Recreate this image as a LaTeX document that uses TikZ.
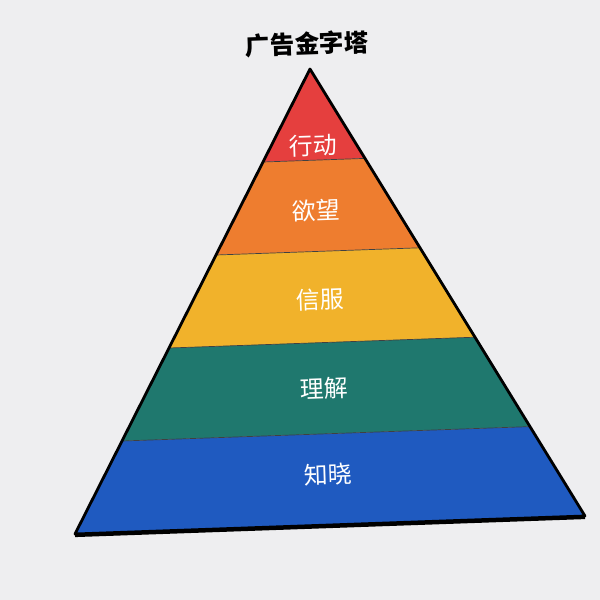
\documentclass[tikz,border=0pt]{standalone}
\usepackage{fontspec}
\newfontfamily\cjk{Noto Sans CJK SC}
\usetikzlibrary{calc}
\definecolor{paper}{HTML}{EEEEF0}
\definecolor{actred}{HTML}{E53F3E}
\definecolor{wishorange}{HTML}{EE7D2F}
\definecolor{trustyellow}{HTML}{F1B22B}
\definecolor{knowteal}{HTML}{1F786E}
\definecolor{awareblue}{HTML}{1F5AC0}
\begin{document}
\begin{tikzpicture}[x=0.25mm,y=-0.25mm,
  lvl/.style={text=white,font=\cjk\fontsize{17}{17}\selectfont,rotate=2},
  sep/.style={draw=black!75,line width=0.5pt}]
\fill[paper](0,0)rectangle(600,600);
\useasboundingbox(0,0)rectangle(600,600);
\coordinate(top)at(310,69);
\coordinate(bl)at(75,534);
\coordinate(br)at(585,516);
\coordinate(mid)at($(bl)!0.5!(br)$);
% bands, top to bottom
\foreach \i/\c in {0/actred,1/wishorange,2/trustyellow,3/knowteal,4/awareblue}{
  \pgfmathsetmacro\a{\i/5}\pgfmathsetmacro\b{(\i+1)/5}
  \fill[\c]($(top)!\a!(bl)$)--($(top)!\b!(bl)$)--($(top)!\b!(br)$)--($(top)!\a!(br)$)--cycle;
}
\foreach \t in {0.2,0.4,0.6,0.8}
  \draw[sep]($(top)!\t!(bl)$)--($(top)!\t!(br)$);
\draw[line width=2pt,line join=round](top)--(bl)--(br)--cycle;
\draw[line width=2pt]([yshift=-1.2pt]bl)--([yshift=-1.2pt]br);
% labels
\node[lvl](act)at($(top)!0.167!(mid)$){行动};
\node[lvl](wish)at($(top)!0.31!(mid)$){欲望};
\node[lvl](trust)at($(top)!0.505!(mid)$){信服};
\node[lvl](know)at($(top)!0.70!(mid)$){理解};
\node[lvl](aware)at($(top)!0.89!(mid)$){知晓};
\node[font=\cjk\fontsize{17.5}{17.5}\selectfont\bfseries,rotate=2](title)at(307,44){广告金字塔};
\end{tikzpicture}
\end{document}
